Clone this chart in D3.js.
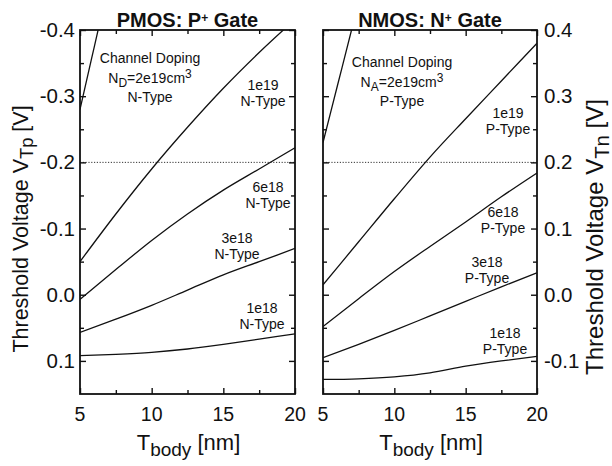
<!DOCTYPE html>
<html><head><meta charset="utf-8">
<script src="https://cdn.jsdelivr.net/npm/d3@7"></script>
<style>
body{margin:0;background:#fff}
text{font-family:"Liberation Sans",Arial,Helvetica,sans-serif;fill:#111}
</style></head><body>
<svg id="c" width="612" height="466"></svg>
<script>
// ---- data ----
const tbody = [5, 7.5, 10, 12.5, 15, 17.5, 20];
const xTicks = [5, 10, 15, 20];
const xMinor = [7.5, 12.5, 17.5];
const yTicksLeft = [-0.4, -0.3, -0.2, -0.1, 0.0, 0.1];
const yTicksRight = [0.4, 0.3, 0.2, 0.1, 0.0, -0.1];
const yMinorLeft = [-0.35, -0.25, -0.15, -0.05, 0.05];
const yMinorRight = [0.35, 0.25, 0.15, 0.05, -0.05];

// PMOS (P+ gate) VTp
const pmos2e19T = [5, 6, 7];
const pmos2e19 = [-0.28, -0.375, -0.47];
const pmos1e19 = [-0.05, -0.122, -0.19, -0.253, -0.312, -0.366, -0.416];
const pmos6e18 = [0.007, -0.038, -0.082, -0.122, -0.158, -0.19, -0.222];
const pmos3e18 = [0.057, 0.037, 0.016, -0.007, -0.03, -0.05, -0.07];
const pmos1e18 = [0.092, 0.09, 0.087, 0.082, 0.075, 0.067, 0.059];

// NMOS (N+ gate) VTn
const nmos2e19T = [5, 6, 7, 8];
const nmos2e19 = [0.23, 0.315, 0.40, 0.49];
const nmos1e19 = [0.015, 0.08, 0.145, 0.208, 0.266, 0.323, 0.38];
const nmos6e18 = [-0.048, -0.006, 0.035, 0.073, 0.11, 0.148, 0.184];
const nmos3e18 = [-0.095, -0.075, -0.054, -0.032, -0.01, 0.012, 0.033];
const nmos1e18 = [-0.128, -0.127, -0.124, -0.118, -0.108, -0.1, -0.093];

const refLeft = -0.2, refRight = 0.2;

// ---- drawing ----
const svg = d3.select("#c");
const plotTop = 30, plotBottom = 394;

function panel(cfg){
  const x = d3.scaleLinear().domain([5,20]).range([cfg.x0, cfg.x1]);
  const y = d3.scaleLinear().domain(cfg.ydom).range([plotTop, plotBottom]);
  const g = svg.append("g");
  const cid = "clip" + cfg.id;
  svg.append("defs").append("clipPath").attr("id", cid)
    .append("rect").attr("x", cfg.x0).attr("y", plotTop).attr("width", cfg.x1-cfg.x0).attr("height", plotBottom-plotTop);

  // dotted reference
  g.append("line").attr("x1", cfg.x0).attr("x2", cfg.x1)
    .attr("y1", y(cfg.ref)).attr("y2", y(cfg.ref))
    .attr("stroke", "#333").attr("stroke-width", 1).attr("stroke-dasharray", "1.2,1.6");

  const line = d3.line().x(d=>x(d[0])).y(d=>y(d[1])).curve(d3.curveMonotoneX);
  const lg = g.append("g").attr("clip-path", `url(#${cid})`);
  cfg.series.forEach(s=>{
    lg.append("path").datum(s.t.map((t,i)=>[t, s.v[i]]))
      .attr("d", line).attr("fill","none").attr("stroke","#111").attr("stroke-width",1.3);
  });

  // axes: ticks inward on all sides
  const strip = sel => { sel.select(".domain").remove(); sel.selectAll("line").attr("stroke","#111").attr("stroke-width",1.4); };
  const addAxis = (gen, tx, ty, vals, len) => g.append("g").attr("transform",`translate(${tx},${ty})`)
    .call(gen.tickValues(vals).tickSizeInner(-len).tickSizeOuter(0).tickFormat("")).call(strip);
  addAxis(d3.axisLeft(y), cfg.x0, 0, cfg.yTicks, 6);
  addAxis(d3.axisLeft(y), cfg.x0, 0, cfg.yMinor, 4);
  addAxis(d3.axisRight(y), cfg.x1, 0, cfg.yTicks, 6);
  addAxis(d3.axisRight(y), cfg.x1, 0, cfg.yMinor, 4);
  addAxis(d3.axisBottom(x), 0, plotBottom, xTicks, 6);
  addAxis(d3.axisBottom(x), 0, plotBottom, xMinor, 4);
  addAxis(d3.axisTop(x), 0, plotTop, xTicks, 6);
  addAxis(d3.axisTop(x), 0, plotTop, xMinor, 4);

  // frame
  g.append("rect").attr("x",cfg.x0).attr("y",plotTop).attr("width",cfg.x1-cfg.x0).attr("height",plotBottom-plotTop)
    .attr("fill","none").attr("stroke","#111").attr("stroke-width",1.8);

  // y tick labels
  cfg.yTicks.forEach(v=>{
    g.append("text").attr("x", cfg.labelSide==="left" ? cfg.x0-5 : cfg.x1+7)
      .attr("y", y(v)+7).attr("text-anchor", cfg.labelSide==="left"?"end":"start")
      .attr("font-size",20.5).text(v.toFixed(1));
  });
  // x tick labels
  xTicks.forEach(v=>{
    g.append("text").attr("x", x(v)).attr("y", 421).attr("text-anchor","middle")
      .attr("font-size",19.5).text(v);
  });
  // x title
  const xt = g.append("text").attr("x",(cfg.x0+cfg.x1)/2+1).attr("y",450).attr("text-anchor","middle").attr("font-size",22);
  xt.append("tspan").text("T");
  xt.append("tspan").attr("baseline-shift","-30%").attr("font-size",19).text("body");
  xt.append("tspan").text(" [nm]");

  // panel title
  const tt = g.append("text").attr("x",(cfg.x0+cfg.x1)/2).attr("y",27).attr("text-anchor","middle")
    .attr("font-size",20).attr("font-weight","bold");
  tt.append("tspan").text(cfg.title[0]);
  tt.append("tspan").attr("baseline-shift","45%").attr("font-size",12).text("+");
  tt.append("tspan").text(cfg.title[1]);

  // annotations
  const ann = (txt, px, py) => g.append("text").attr("x",px).attr("y",py).attr("text-anchor","middle").attr("font-size",14).text(txt);
  ann("Channel Doping", cfg.cd[0], cfg.cd[1]);
  const nd = g.append("text").attr("x",cfg.cd[0]).attr("y",cfg.cd[1]+20).attr("text-anchor","middle").attr("font-size",14);
  nd.append("tspan").text("N");
  nd.append("tspan").attr("baseline-shift","-30%").attr("font-size",12).text(cfg.dop);
  nd.append("tspan").text("=2e19cm");
  nd.append("tspan").attr("baseline-shift","45%").attr("font-size",12).text("3");
  ann(cfg.type, cfg.cd[0], cfg.cd[1]+39);
  cfg.labels.forEach(l=>{ ann(l[0], l[1], l[2]); ann(cfg.type, l[1], l[2]+16); });

  // y title
  const yt = svg.append("text").attr("transform",`translate(${cfg.ytx},${cfg.yty}) rotate(-90)`)
    .attr("text-anchor","middle").attr("font-size",cfg.ytfs);
  yt.append("tspan").text("Threshold Voltage V");
  yt.append("tspan").attr("baseline-shift","-30%").attr("font-size",cfg.ytfs*0.85).text(cfg.ysub);
  yt.append("tspan").text(" [V]");
}

panel({id:"L", x0:80, x1:295, ydom:[-0.4,0.15], ref:refLeft, yTicks:yTicksLeft, yMinor:yMinorLeft,
  labelSide:"left", title:["PMOS: P"," Gate"], dop:"D", type:"N-Type", ysub:"Tp", ytx:28, yty:229, ytfs:21.5,
  cd:[150,63],
  labels:[["1e19",263,90],["6e18",268,192],["3e18",237,243],["1e18",262,313]],
  series:[{t:pmos2e19T,v:pmos2e19},{t:tbody,v:pmos1e19},{t:tbody,v:pmos6e18},{t:tbody,v:pmos3e18},{t:tbody,v:pmos1e18}]});

panel({id:"R", x0:323, x1:537, ydom:[0.4,-0.15], ref:refRight, yTicks:yTicksRight, yMinor:yMinorRight,
  labelSide:"right", title:["NMOS: N"," Gate"], dop:"A", type:"P-Type", ysub:"Tn", ytx:603, yty:237, ytfs:24,
  cd:[402,67],
  labels:[["1e19",508,118],["6e18",503,217],["3e18",487,267],["1e18",505,338]],
  series:[{t:nmos2e19T,v:nmos2e19},{t:tbody,v:nmos1e19},{t:tbody,v:nmos6e18},{t:tbody,v:nmos3e18},{t:tbody,v:nmos1e18}]});
</script>
</body></html>
